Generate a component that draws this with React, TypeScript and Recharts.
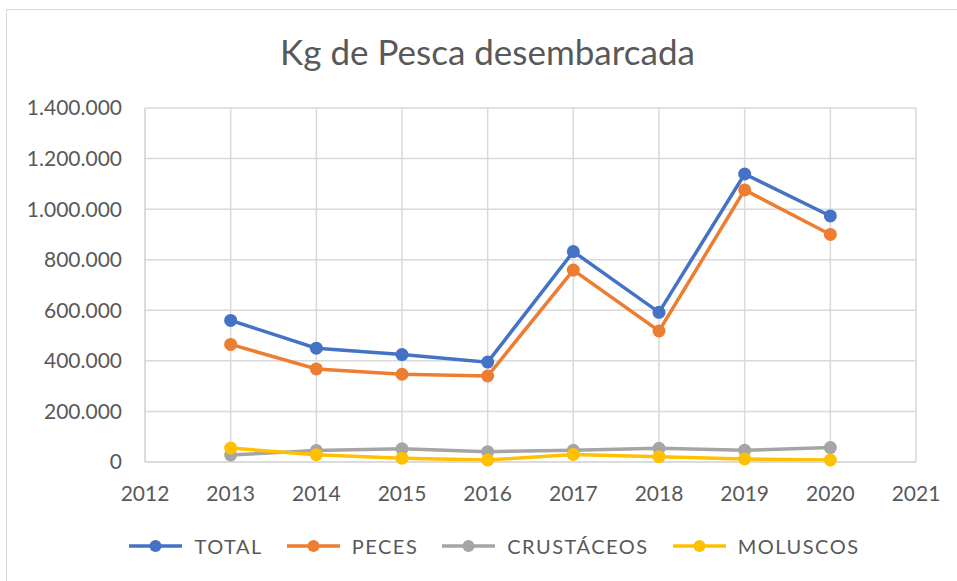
import { LineChart, Line, XAxis, YAxis, CartesianGrid, Legend } from "recharts";

const years = [2013, 2014, 2015, 2016, 2017, 2018, 2019, 2020];
const total = [560000, 450000, 425000, 395000, 832000, 592000, 1139000, 973000];
const peces = [465000, 368000, 347000, 340000, 759000, 518000, 1076000, 900000];
const crustaceos = [28000, 45000, 52000, 41000, 46000, 54000, 46000, 57000];
const moluscos = [55000, 29000, 15000, 8000, 30000, 21000, 12000, 8000];

const xTicks = [2012, 2013, 2014, 2015, 2016, 2017, 2018, 2019, 2020, 2021];
const yTicks = [0, 200000, 400000, 600000, 800000, 1000000, 1200000, 1400000];

const series = [
  { key: "total", name: "TOTAL", color: "#4472C4" },
  { key: "peces", name: "PECES", color: "#ED7D31" },
  { key: "crustaceos", name: "CRUSTÁCEOS", color: "#A5A5A5" },
  { key: "moluscos", name: "MOLUSCOS", color: "#FFC000" },
];

const data = years.map((year, i) => ({
  year,
  total: total[i],
  peces: peces[i],
  crustaceos: crustaceos[i],
  moluscos: moluscos[i],
}));

const FONT = "Lato, 'Noto Sans', sans-serif";
const TEXT = "#595959";

function fmt(v: number) {
  return String(v).replace(/\B(?=(\d{3})+(?!\d))/g, ".");
}

function renderLegend() {
  return (
    <div style={{ display: "flex", justifyContent: "center", gap: 24, fontFamily: FONT }}>
      {series.map((s) => (
        <div key={s.key} style={{ display: "flex", alignItems: "center", gap: 12 }}>
          <svg width={53} height={16}>
            <line x1={0} y1={8} x2={53} y2={8} stroke={s.color} strokeWidth={3.5} />
            <circle cx={26.5} cy={8} r={6} fill={s.color} />
          </svg>
          <span style={{ fontSize: 20, color: TEXT, letterSpacing: 1.5 }}>{s.name}</span>
        </div>
      ))}
    </div>
  );
}

export default function App() {
  return (
    <div style={{ position: "absolute", left: 0, top: 0, width: 957, height: 581, background: "#fff" }}>
      <div
        style={{
          position: "absolute",
          left: 6,
          top: 9,
          width: 1000,
          height: 600,
          borderLeft: "1px solid #d9d9d9",
          borderTop: "1px solid #d9d9d9",
        }}
      />
      <div
        style={{
          position: "absolute",
          left: 0,
          width: 975,
          top: 30,
          textAlign: "center",
          fontFamily: FONT,
          fontSize: 35,
          color: TEXT,
        }}
      >
        Kg de Pesca desembarcada
      </div>
      <div style={{ position: "absolute", left: 0, top: 0 }}>
        <LineChart
          width={957}
          height={581}
          data={data}
          margin={{ top: 108, right: 41, bottom: 23, left: 0 }}
        >
          <CartesianGrid stroke="#d9d9d9" strokeWidth={1.5} />
          <XAxis
            dataKey="year"
            type="number"
            domain={[2012, 2021]}
            ticks={xTicks}
            height={72}
            tickLine={false}
            tickSize={0}
            tickMargin={24}
            axisLine={{ stroke: "#d9d9d9", strokeWidth: 1.5 }}
            tick={{ fill: TEXT, fontSize: 21, fontFamily: FONT }}
          />
          <YAxis
            domain={[0, 1400000]}
            ticks={yTicks}
            width={145}
            tickLine={false}
            tickSize={0}
            tickMargin={23}
            axisLine={{ stroke: "#d9d9d9", strokeWidth: 1.5 }}
            tickFormatter={fmt}
            tick={{ fill: TEXT, fontSize: 21, fontFamily: FONT }}
          />
          <Legend
            verticalAlign="bottom"
            height={24}
            content={renderLegend}
            wrapperStyle={{ left: 16, width: 957 }}
          />
          {series.map((s) => (
            <Line
              key={s.key}
              dataKey={s.key}
              name={s.name}
              stroke={s.color}
              strokeWidth={3.5}
              dot={{ r: 6.5, fill: s.color, stroke: s.color, strokeWidth: 0 }}
              activeDot={false}
              isAnimationActive={false}
            />
          ))}
        </LineChart>
      </div>
    </div>
  );
}
